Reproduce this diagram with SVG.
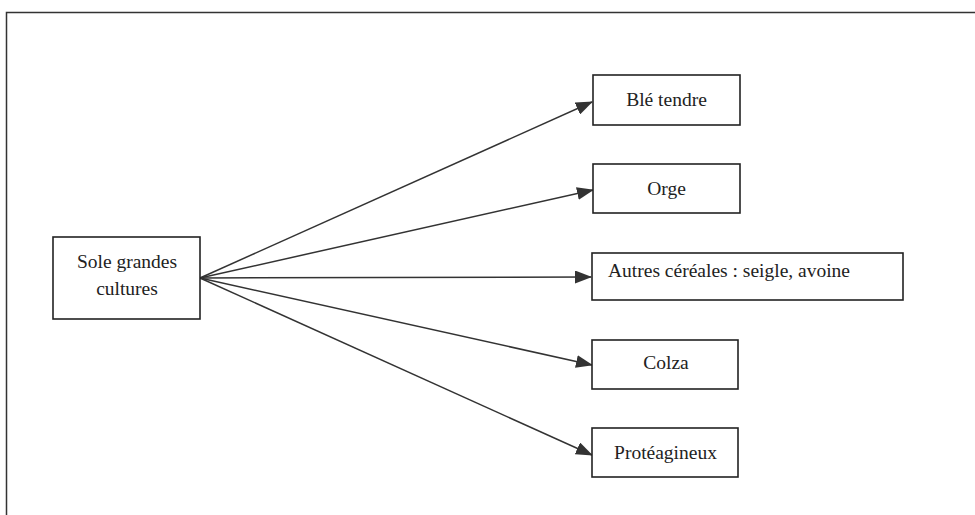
<svg xmlns="http://www.w3.org/2000/svg" width="975" height="515" viewBox="0 0 975 515">
<style>
.box{fill:#fff;stroke:#222;stroke-width:1.6}
.t{font-family:"Liberation Serif","Times New Roman",serif;font-size:19.5px;fill:#222;text-anchor:middle}
.c{stroke:#333;stroke-width:1.5;fill:none;marker-end:url(#ah)}
</style>
<defs>
<marker id="ah" markerWidth="17" markerHeight="13" refX="16" refY="6.5" orient="auto" markerUnits="userSpaceOnUse">
<path d="M0,0 L17,6.5 L0,13 Z" fill="#333"/>
</marker>
</defs>
<rect width="975" height="515" fill="#fff"/>
<path d="M6.5,515 L6.5,12.5 L975,12.5" fill="none" stroke="#333" stroke-width="1.5"/>
<g id="connectors">
<line class="c" x1="200" y1="278" x2="592" y2="102"/>
<line class="c" x1="200" y1="278" x2="593" y2="190"/>
<line class="c" x1="200" y1="278" x2="591" y2="277"/>
<line class="c" x1="200" y1="278" x2="592" y2="365"/>
<line class="c" x1="200" y1="278" x2="592" y2="455"/>
</g>
<g id="src">
<rect class="box" x="53" y="237" width="147" height="82"/>
<text class="t" x="127" y="268" font-size="20">Sole grandes</text>
<text class="t" x="127" y="295" font-size="20">cultures</text>
</g>
<g id="ble">
<rect class="box" x="593" y="75" width="147" height="50"/>
<text class="t" x="666.5" y="106">Blé tendre</text>
</g>
<g id="orge">
<rect class="box" x="593" y="164" width="147" height="49"/>
<text class="t" x="666.5" y="195">Orge</text>
</g>
<g id="autres">
<rect class="box" x="592" y="253" width="311" height="47"/>
<text class="t" x="608" y="277" style="text-anchor:start">Autres céréales : seigle, avoine</text>
</g>
<g id="colza">
<rect class="box" x="592" y="340" width="146" height="49"/>
<text class="t" x="666" y="369">Colza</text>
</g>
<g id="prot">
<rect class="box" x="592" y="428" width="146" height="49"/>
<text class="t" x="665.5" y="459">Protéagineux</text>
</g>
</svg>
